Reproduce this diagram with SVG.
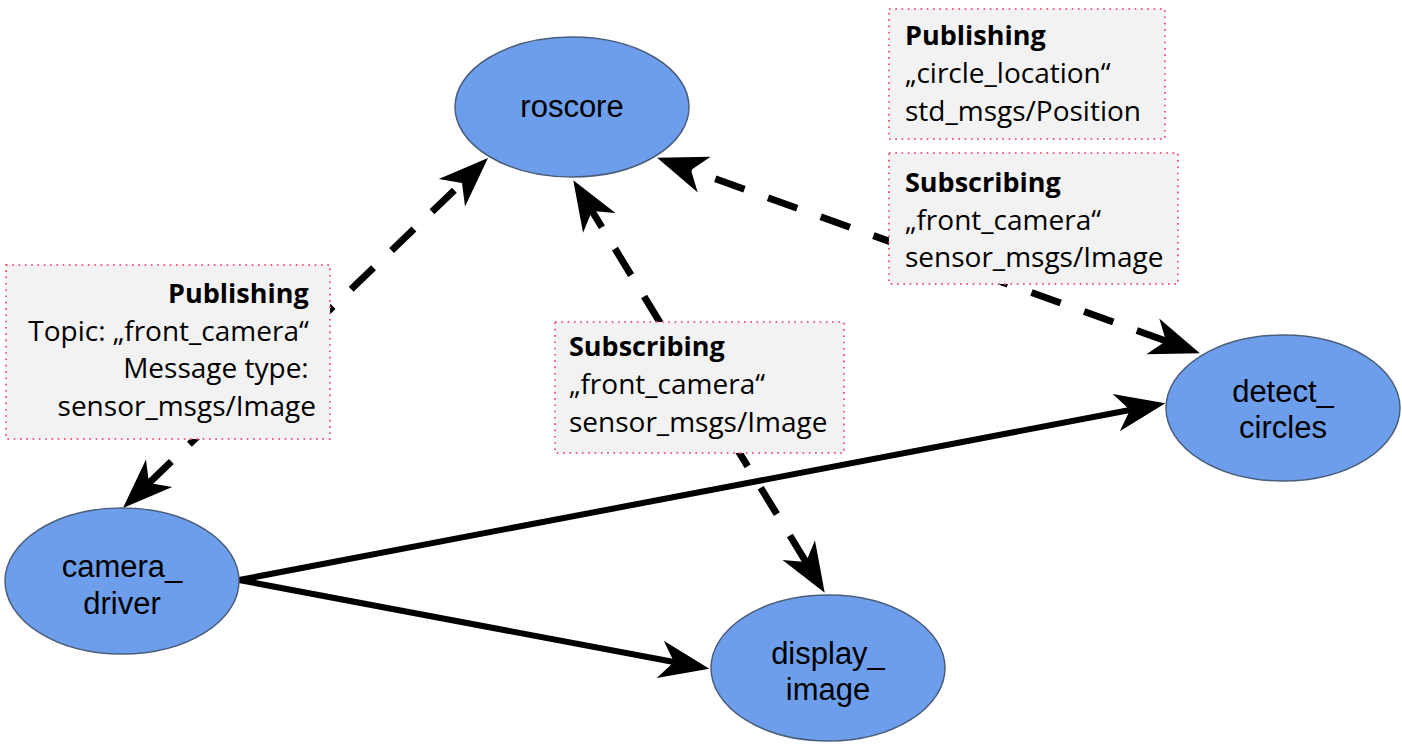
<svg xmlns="http://www.w3.org/2000/svg" width="1402" height="747" viewBox="0 0 1402 747">
  <style>
    .node { fill: #6d9eeb; stroke: #4a5d7c; stroke-width: 1.5; }
    .nlabel { font-family: "Liberation Sans", Arial, sans-serif; font-size: 31px; fill: #000; text-anchor: middle; }
    .note { fill: #f2f2f2; stroke: #f0607c; stroke-width: 2; stroke-dasharray: 1.6 4.7; }
    .ntext { font-family: "Open Sans", "Liberation Sans", sans-serif; font-size: 28px; fill: #000; }
    .ntext .hd { font-weight: bold; font-size: 27px; }
    .dash { fill: none; stroke: #000; stroke-width: 7; stroke-dasharray: 31 25; }
    .solid { fill: none; stroke: #000; stroke-width: 6; }
  </style>
  <defs>
    <!-- notched arrowhead; origin sits at the notch so the line ends there -->
    <marker id="head" markerUnits="userSpaceOnUse" orient="auto-start-reverse" refX="0" refY="0" markerWidth="60" markerHeight="60" overflow="visible">
      <path d="M36,0 L-14,-19 L0,0 L-14,19 Z" fill="#000"/>
    </marker>
  </defs>

  <g id="connectors">
    <!-- camera_driver <-> roscore -->
    <path class="dash" d="M149,483 L462,183" marker-start="url(#head)" marker-end="url(#head)"/>
    <!-- display_image <-> roscore -->
    <path class="dash" d="M806,562 L592,211" marker-start="url(#head)" marker-end="url(#head)"/>
    <!-- detect_circles <-> roscore -->
    <path class="dash" d="M1166,341 L691,170" marker-start="url(#head)" marker-end="url(#head)"/>
    <!-- camera_driver -> detect_circles -->
    <path class="solid" d="M239,580 L1130,410" marker-end="url(#head)"/>
    <!-- camera_driver -> display_image -->
    <path class="solid" d="M239,580 L674,662" marker-end="url(#head)"/>
  </g>

  <g id="note-camera-pub">
    <rect class="note" x="6" y="265" width="324" height="174"/>
    <text class="ntext" text-anchor="end">
      <tspan class="hd" x="316" y="303">Publishing</tspan>
      <tspan x="316" y="341">Topic: „front_camera“</tspan>
      <tspan x="316" y="378">Message type:</tspan>
      <tspan x="316" y="416">sensor_msgs/Image</tspan>
    </text>
  </g>

  <g id="note-display-sub">
    <rect class="note" x="555" y="322" width="289" height="131"/>
    <text class="ntext">
      <tspan class="hd" x="569" y="356">Subscribing</tspan>
      <tspan x="569" y="394">„front_camera“</tspan>
      <tspan x="569" y="432">sensor_msgs/Image</tspan>
    </text>
  </g>

  <g id="note-detect-pub">
    <rect class="note" x="889" y="9" width="276" height="130"/>
    <text class="ntext">
      <tspan class="hd" x="905" y="45">Publishing</tspan>
      <tspan x="905" y="83">„circle_location“</tspan>
      <tspan x="905" y="121">std_msgs/Position</tspan>
    </text>
  </g>

  <g id="note-detect-sub">
    <rect class="note" x="889" y="153" width="289" height="131"/>
    <text class="ntext">
      <tspan class="hd" x="905" y="192">Subscribing</tspan>
      <tspan x="905" y="230">„front_camera“</tspan>
      <tspan x="905" y="267">sensor_msgs/Image</tspan>
    </text>
  </g>

  <g id="roscore">
    <ellipse class="node" cx="572" cy="107" rx="117" ry="70"/>
    <text class="nlabel" x="572" y="117">roscore</text>
  </g>

  <g id="camera_driver">
    <ellipse class="node" cx="122" cy="581" rx="117" ry="73"/>
    <text class="nlabel" x="122" y="577">camera_</text>
    <text class="nlabel" x="122" y="614">driver</text>
  </g>

  <g id="display_image">
    <ellipse class="node" cx="828" cy="668" rx="117" ry="73"/>
    <text class="nlabel" x="828" y="664">display_</text>
    <text class="nlabel" x="828" y="700">image</text>
  </g>

  <g id="detect_circles">
    <ellipse class="node" cx="1283" cy="408" rx="117" ry="73"/>
    <text class="nlabel" x="1283" y="402">detect_</text>
    <text class="nlabel" x="1283" y="438">circles</text>
  </g>
</svg>
